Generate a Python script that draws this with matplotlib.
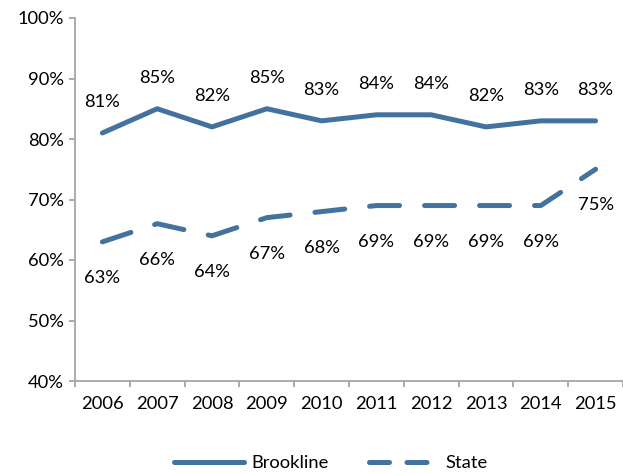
import numpy as np
import matplotlib
matplotlib.use('Agg')
import matplotlib.pyplot as plt
from matplotlib.lines import Line2D

# data
years = ['2006', '2007', '2008', '2009', '2010', '2011', '2012', '2013', '2014', '2015']
brookline = [81, 85, 82, 85, 83, 84, 84, 82, 83, 83]
state = [63, 66, 64, 67, 68, 69, 69, 69, 69, 75]

plt.rcParams['font.family'] = ['Lato', 'DejaVu Sans']
blue = '#44729F'
grey = '#A6A6A6'
fs = 13.2

fig = plt.figure(figsize=(6.23, 4.74), dpi=100)
ax = fig.add_axes([75/623, 1 - 381/474, 548/623, 363/474])

x = np.arange(len(years))
ax.plot(x, brookline, color=blue, lw=3.6, solid_capstyle='round', solid_joinstyle='round')
ax.plot(x, state, color=blue, lw=3.6, linestyle=(0, (6, 5)),
        dash_capstyle='round', dash_joinstyle='round')

for i, v in enumerate(brookline):
    ax.annotate(f'{v}%', (i, v), xytext=(0, 22), textcoords='offset points',
                ha='center', va='center', fontsize=fs)
for i, v in enumerate(state):
    ax.annotate(f'{v}%', (i, v), xytext=(0, -26), textcoords='offset points',
                ha='center', va='center', fontsize=fs)

ax.set_xlim(-0.5, len(years) - 0.5)
ax.set_ylim(40, 100)
ax.set_yticks(range(40, 101, 10))
ax.set_yticklabels([f'{t}%' for t in range(40, 101, 10)], fontsize=fs)
ax.set_xticks(np.arange(-0.5, len(years), 1), minor=False)
ax.set_xticklabels([])
ax.set_xticks(x, minor=True)
ax.set_xticklabels(years, minor=True, fontsize=fs)
ax.tick_params(axis='x', which='minor', length=0, pad=11)
ax.tick_params(axis='x', which='major', length=4, color=grey, width=1.3)
ax.tick_params(axis='y', length=4, color=grey, width=1.3, pad=4)

for s in ['top', 'right']:
    ax.spines[s].set_visible(False)
for s in ['left', 'bottom']:
    ax.spines[s].set_color(grey)
    ax.spines[s].set_linewidth(1.3)

handles = [Line2D([], [], color=blue, lw=3.6, solid_capstyle='round'),
           Line2D([], [], color=blue, lw=3.6, linestyle=(0, (4, 3.5)), dash_capstyle='round')]
fig.legend(handles, ['Brookline', 'State'], loc='center', bbox_to_anchor=(331/623, 1 - 463/474),
           ncol=2, frameon=False, fontsize=fs, handlelength=3.8, columnspacing=2.2, handletextpad=0.4)

fig.savefig('out.png', dpi=100)
